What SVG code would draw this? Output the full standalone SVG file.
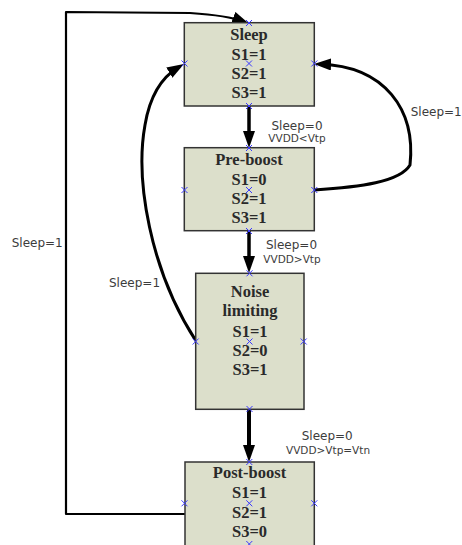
<svg xmlns="http://www.w3.org/2000/svg" xmlns:xlink="http://www.w3.org/1999/xlink" width="462" height="545" viewBox="0 0 462 545">
  <style>
    .box { fill: #dcdfcb; stroke: #333333; stroke-width: 1.5; }
    .nt { font-family: "Liberation Serif", "Times New Roman", serif; font-weight: bold; font-size: 16.5px; fill: #2a2a2a; text-anchor: middle; }
    .el { font-family: "DejaVu Sans", Verdana, sans-serif; font-size: 12px; fill: #3c3c3c; }
    .es { font-family: "DejaVu Sans", Verdana, sans-serif; font-size: 10.5px; fill: #3c3c3c; }
    .edge { fill: none; stroke: #000000; stroke-linejoin: round; }
    .xm { fill: none; stroke: #3a3aff; stroke-width: 1; }
  </style>
  <defs>
    <marker id="ah" viewBox="0 0 17 12" refX="11" refY="6" markerWidth="17" markerHeight="12" markerUnits="userSpaceOnUse" orient="auto">
      <path d="M0,0 L17,6 L0,12 Z" fill="#000000"/>
    </marker>
    <path id="x" class="xm" d="M-3,-3 L3,3 M-3,3 L3,-3"/>
  </defs>

  <rect width="462" height="545" fill="#ffffff"/>

  <g id="connectors">
    <path class="edge" d="M249,106 L249,142" stroke-width="3.5" marker-end="url(#ah)"/>
    <path class="edge" d="M249,231 L249,267" stroke-width="3.5" marker-end="url(#ah)"/>
    <path class="edge" d="M249,409 L249,456" stroke-width="4" marker-end="url(#ah)"/>
    <path class="edge" d="M314,190 C360,187 400,182 410,165 C416,110 385,66 320,64.2" stroke-width="3" marker-end="url(#ah)"/>
    <path class="edge" d="M196,341 C150,270 135,180 145,125 C150,95 162,77 178.8,67" stroke-width="3" marker-end="url(#ah)"/>
    <path class="edge" d="M185,514 L66,514 L66,12 L190,13 Q228,15.5 243.5,21.5" stroke-width="2.2" marker-end="url(#ah)"/>
  </g>

  <g id="labels">
    <text class="el" x="271.5" y="129.5">Sleep=0</text>
    <text class="es" x="268.3" y="141.7">VVDD&lt;Vtp</text>
    <text class="el" x="266" y="249.3">Sleep=0</text>
    <text class="es" x="263.3" y="263.3">VVDD&gt;Vtp</text>
    <text class="el" x="301.7" y="440">Sleep=0</text>
    <text class="es" x="286" y="454.3">VVDD&gt;Vtp=Vtn</text>
    <text class="el" x="410.7" y="116">Sleep=1</text>
    <text class="el" x="11.7" y="246.7">Sleep=1</text>
    <text class="el" x="109" y="287.3">Sleep=1</text>
  </g>

  <g id="sleep">
    <rect class="box" x="184.3" y="22.7" width="130" height="83.3"/>
    <text class="nt" x="249" y="39.5">Sleep</text>
    <text class="nt" x="249" y="60">S1=1</text>
    <text class="nt" x="249" y="79">S2=1</text>
    <text class="nt" x="249" y="98">S3=1</text>
    <use xlink:href="#x" x="249" y="23"/>
    <use xlink:href="#x" x="184.5" y="63.5"/>
    <use xlink:href="#x" x="314.3" y="63.5"/>
    <use xlink:href="#x" x="249" y="63.5"/>
    <use xlink:href="#x" x="249" y="106"/>
  </g>

  <g id="preboost">
    <rect class="box" x="184.3" y="147.7" width="130" height="83"/>
    <text class="nt" x="249" y="165">Pre-boost</text>
    <text class="nt" x="249" y="185">S1=0</text>
    <text class="nt" x="249" y="204">S2=1</text>
    <text class="nt" x="249" y="223">S3=1</text>
    <use xlink:href="#x" x="249" y="148"/>
    <use xlink:href="#x" x="184.5" y="190"/>
    <use xlink:href="#x" x="314.3" y="190"/>
    <use xlink:href="#x" x="249" y="190"/>
    <use xlink:href="#x" x="249" y="231"/>
  </g>

  <g id="noise">
    <rect class="box" x="195.7" y="273.3" width="108.3" height="136"/>
    <text class="nt" x="250" y="296.7">Noise</text>
    <text class="nt" x="250" y="316">limiting</text>
    <text class="nt" x="250" y="336.5">S1=1</text>
    <text class="nt" x="250" y="356">S2=0</text>
    <text class="nt" x="250" y="375">S3=1</text>
    <use xlink:href="#x" x="249.5" y="273.3"/>
    <use xlink:href="#x" x="195.7" y="341.5"/>
    <use xlink:href="#x" x="303.7" y="341.5"/>
    <use xlink:href="#x" x="249.5" y="341.5"/>
    <use xlink:href="#x" x="249.5" y="409"/>
  </g>

  <g id="postboost">
    <rect class="box" x="185" y="462" width="129.3" height="95"/>
    <text class="nt" x="249.5" y="478">Post-boost</text>
    <text class="nt" x="249.5" y="498">S1=1</text>
    <text class="nt" x="249.5" y="517.7">S2=1</text>
    <text class="nt" x="249.5" y="536.7">S3=0</text>
    <use xlink:href="#x" x="249.3" y="462"/>
    <use xlink:href="#x" x="184.5" y="503.3"/>
    <use xlink:href="#x" x="314.3" y="503.3"/>
    <use xlink:href="#x" x="249.3" y="503.3"/>
    <use xlink:href="#x" x="249.3" y="544"/>
  </g>
</svg>
